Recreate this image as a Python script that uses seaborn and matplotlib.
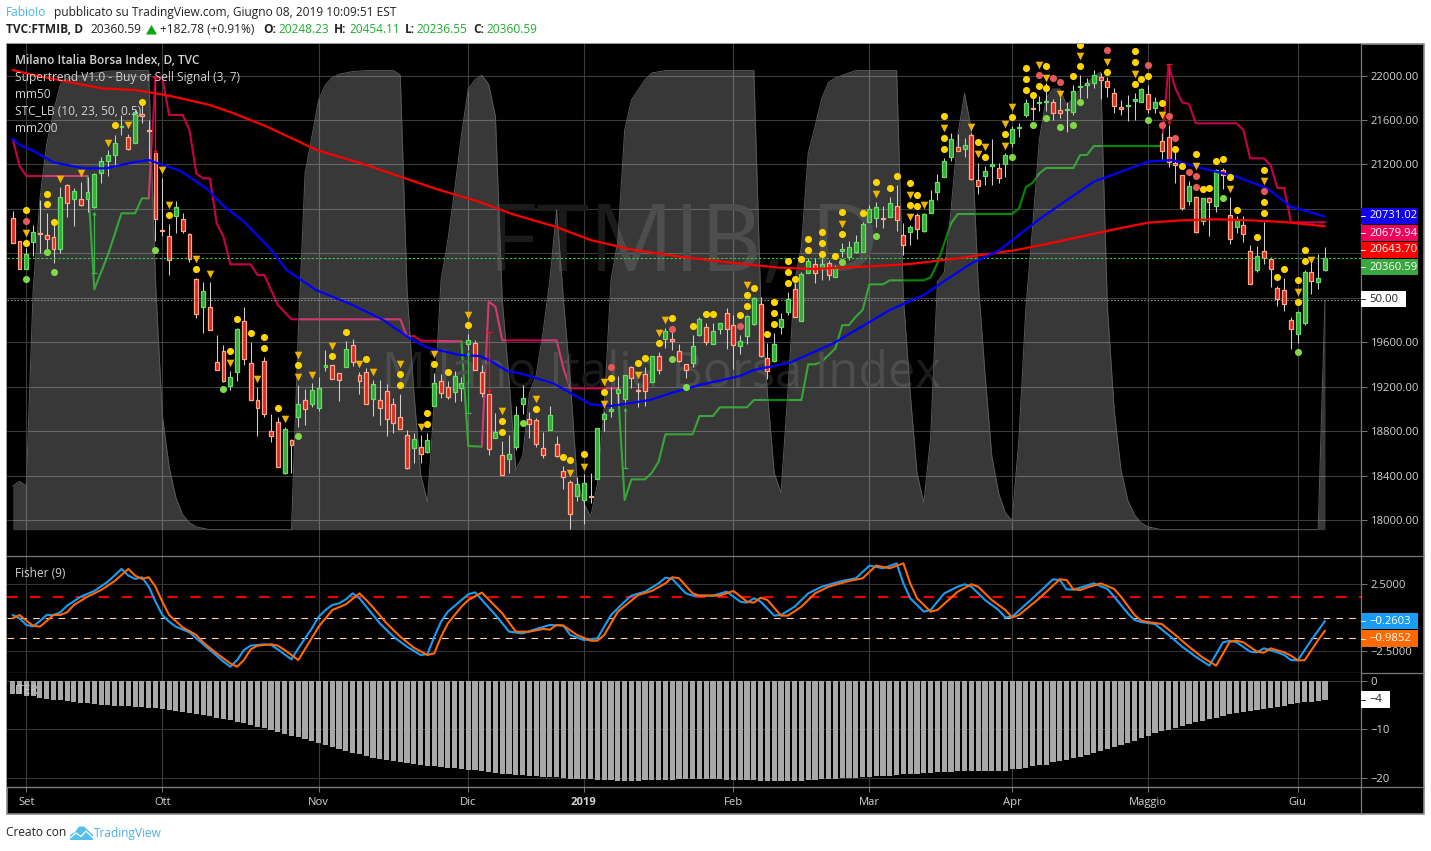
import matplotlib
matplotlib.use("Agg")
import matplotlib.pyplot as plt
import numpy as np
import pandas as pd
import seaborn as sns
from matplotlib.patches import Rectangle, Polygon
from matplotlib.lines import Line2D

W, H = 1431, 851

opens = [20715,20508,20262,20505,20586,20562,20550,20442,21012,20892,
 20892,20886,20820,21120,21234,21288,21534,21444,21390,21651,
 21510,21300,20610,20559,20736,20712,20571,20166,19920,19914,
 19419,19518,19209,19335,19788,19410,19077,19428,18798,18879,
 18426,18717,18930,19077,19047,19011,19374,19392,19320,19380,
 19572,19302,19329,19092,19077,19158,19041,18924,18762,18651,
 18654,18615,19029,19248,19194,19155,19185,19587,19590,19329,
 19131,18741,18582,18552,18660,19047,18906,18897,18645,18813,
 18681,18438,18339,18219,18183,18219,18372,18912,18978,19146,
 19092,19374,19170,19311,19245,19473,19632,19632,19518,19401,
 19416,19668,19734,19587,19722,19860,19752,19563,19653,19761,
 19941,19461,19434,19740,19875,20076,19794,20226,20301,20265,
 20310,20190,20424,20370,20409,20415,20685,20715,20721,20730,
 20823,20562,20589,20742,20598,20766,20949,21090,21270,21354,
 21342,21462,21057,21099,21189,21165,21207,21396,21528,21648,
 21708,21753,21762,21762,21687,21687,21675,21894,21918,21936,
 21990,21948,21840,21714,21723,21768,21765,21831,21711,21408,
 21444,21210,21102,20874,20904,20694,20895,20829,21147,20742,
 20634,20652,20418,20253,20418,20346,20085,20067,19797,19677,
 19776,20229,20145,20248.23]
closes = [20490,20262,20394,20595,20574,20526,20442,20910,20850,20958,
 20838,20949,21111,21228,21282,21390,21546,21336,21669,21639,
 21498,20706,20598,20337,20820,20604,20352,19851,20058,19713,
 19353,19254,19284,19716,19452,19083,19011,18957,18759,18480,
 18816,18678,19041,18996,19167,19185,19392,19272,19263,19536,
 19425,19254,19047,19221,19011,18906,18876,18822,18471,18726,
 18597,18717,19230,19146,19110,19293,19230,19617,19353,19146,
 18642,18789,18408,18591,18942,19095,18867,18687,18582,18942,
 18573,18390,18057,18321,18330,18207,18831,18951,18996,19176,
 19302,19281,19158,19164,19473,19353,19704,19608,19434,19347,
 19563,19806,19605,19698,19770,19722,19572,19608,19833,19995,
 19473,19344,19581,19806,19986,19830,20211,20328,20226,20301,
 20208,20268,20436,20454,20502,20664,20796,20814,20709,20850,
 20697,20478,20634,20622,20751,20877,21039,21228,21426,21324,
 21372,21072,21009,21138,21201,21075,21282,21516,21540,21750,
 21696,21765,21774,21666,21666,21699,21858,21906,21930,22002,
 21957,21894,21723,21696,21735,21789,21879,21702,21759,21318,
 21219,21198,20811,21003,20589,20895,20859,21147,21102,20532,
 20700,20571,20127,20373,20361,20256,19992,19947,19722,19875,
 20229,20154,20175,20360.59]
highs = [20784,20508,20445,20655,20880,20760,20700,21000,21024,20985,
 21045,21090,21120,21270,21330,21468,21645,21474,21690,21780,
 21600,21375,21075,20664,20871,20760,20580,20175,20145,20139,
 19665,19575,19341,19725,19914,19602,19200,19464,18951,18927,
 18840,18726,19215,19176,19236,19284,19530,19392,19320,19611,
 19626,19329,19365,19260,19260,19221,19101,19134,18810,18780,
 18765,18780,19320,19314,19248,19341,19290,19674,19620,19395,
 19260,18960,18711,18765,19026,19215,18975,18915,18795,19026,
 18756,18486,18360,18390,18411,18423,18831,18975,19200,19296,
 19305,19386,19236,19374,19473,19512,19725,19740,19584,19401,
 19665,19824,19770,19776,19770,19905,19845,19665,19848,20010,
 20004,19590,19680,19860,20049,20130,20230,20355,20355,20355,
 20340,20295,20490,20511,20565,20682,20835,20859,20826,20904,
 21012,20670,20652,20760,20760,20970,21111,21255,21480,21474,
 21435,21486,21216,21186,21429,21216,21300,21546,21570,21786,
 21795,21819,21930,21786,21810,21765,21915,22005,21975,22050,
 22020,21990,21885,21780,21825,21840,21885,21915,21810,21480,
 21555,21330,21108,21051,20916,20901,20910,21156,21168,20910,
 20736,20736,20475,20466,20679,20370,20106,20175,19830,19880,
 20250,20325,20394,20454.11]
lows = [20490,20262,20262,20376,20400,20430,20310,20406,20730,20646,
 20826,20772,20805,21030,21096,21180,21465,21330,21390,21570,
 21225,20514,20559,20205,20586,20580,20325,19821,19686,19710,
 19350,19245,19170,19251,19398,19080,18756,18930,18702,18474,
 18414,18426,18840,18855,19020,18981,19341,19269,19074,19374,
 19386,19134,19044,18936,18855,18756,18786,18819,18462,18516,
 18516,18606,19026,19098,19089,19065,19074,19530,19350,19110,
 18585,18735,18405,18426,18630,18954,18741,18660,18561,18810,
 18570,18279,17922,18174,17964,18156,18369,18801,18930,19035,
 19035,19191,19020,19029,19245,19314,19548,19530,19425,19281,
 19380,19656,19572,19581,19674,19542,19362,19494,19581,19752,
 19470,19272,19425,19674,19845,19824,19790,20220,20130,20160,
 20160,20184,20370,20340,20400,20409,20685,20640,20625,20724,
 20604,20385,20478,20529,20595,20760,20880,21090,21234,21324,
 21270,21060,20931,21015,21015,21036,21090,21354,21450,21630,
 21600,21684,21684,21600,21615,21489,21645,21795,21795,21891,
 21786,21810,21666,21645,21594,21600,21759,21666,21660,21249,
 21180,21036,20790,20835,20586,20655,20559,20775,20982,20484,
 20580,20505,20124,20235,20304,20100,19929,19884,19539,19590,
 19755,20034,20079,20236.55]

mm200_idx = [0,3,13,18,23,29,32.5,37.4,40,44.7,52,57,62,68.7,73.6,79.8,85,90.8,98.1,106.5,
 112.8,117.7,125,132,139,147.6,152.5,160,162,167,172,177,182,187,193]
mm200_val = [22050,22005,21885,21870,21819,21735,21660,21540,21465,21330,21195,21090,20985,20862,20751,20640,20520,20436,20370,20310,
 20271,20259,20280,20304,20355,20430,20490,20589,20616,20676,20697,20706,20697,20682,20643.7]
mm50_idx = [0,1,3,6,10.4,13.8,17.7,20,24.6,28.5,31,34,37.8,40.3,44.6,50,54.5,58.4,61,65.8,68.7,70.2,72.6,75,79.5,85,88,93.7,96.7,101,107,109,114.3,120.7,
 129,134,137.6,141,145,151.5,159,163,167,170.5,175,180,184.5,188,193]
mm50_val = [21429,21375,21324,21219,21165,21165,21219,21240,21144,20985,20826,20685,20445,20250,20070,19935,19800,19635,19551,19485,19476,19434,19344,19314,19230,19041,19026,19080,19140,19215,19296,19350,19416,19590,
 19890,20025,20175,20310,20424,20730,21045,21135,21225,21240,21165,21090,20985,20820,20731.02]

# supertrend legs, red above the price and green below it
st_red1_idx = [0,1,2,11]
st_red1_val = [21429,21186,21096,21096]
st_green1_idx = [11,12,14,16,18,19,20]
st_green1_val = [21096,20076,20385,20760,20760,20895,20895]
st_red2_idx = [20,21,22,23,25,26,27,28,29,30,31,32,35,36,37,39,40,41,57,58,59,60,66]
st_red2_val = [20895,21984,21984,21645,21645,21510,21120,21075,21075,20670,20550,20301,20301,20205,20205,19935,19869,19806,19806,19650,19656,19614,19608]
st_green2_idx = [66,67,69]
st_green2_val = [19608,18666,18660]
st_red3_idx = [69,70,71,72,80,81,82,89]
st_red3_val = [18660,19965,19920,19617,19617,19365,19185,19185]
st_green3_idx = [89,90,91,93,94,95,96,100,101,103,104,108,109,116,117,118,119,121,122,123,124,125,126,128,129,134,135,136,137,138,139,147,148,149,150,151,152,156,157,158,159,169]
st_green3_val = [19185,18180,18366,18366,18426,18525,18771,18771,18936,18936,19014,19014,19080,19080,19401,19401,19425,19545,19752,19755,19830,19890,20121,20121,20157,20157,20184,20310,20490,20670,20754,20754,20805,20994,21036,21120,21168,21168,21285,21285,21366,21366]
st_red4_idx = [169,170,171,172,173,174,180,181,182,184,185,186,187,188,193]
st_red4_val = [21366,22095,21885,21759,21744,21570,21570,21510,21255,21255,21195,20988,20988,20679,20679.94]

arrow_idx = [12,21,67,70,90,170]
arrow_start = [20226,21984,18960,19689,18465,22101]
arrow_end = [20760,21315,19500,19155,18996,21570]

stc_idx = [0,1,2,3,4,5,6,7,8,10,14,20,21,22,23,24,25,26,27,29,41,42,43,44,45,46,47,48,50,52,56,57,58,59,60,61,62,63,64,65,66,67,68,69,70,71,72,73,74,75,76,77,78,79,80,81,82,83,84,85,86,87,88,89,90,91,92,93,94,96,109,110,111,112,113,114,115,116,117,118,119,120,121,123,124,130,131,132,133,134,135,136,137,138,139,140,141,142,143,144,145,146,147,148,149,150,151,152,153,154,155,156,157,158,159,160,161,162,163,164,165,166,167,169,192,193]
stc_val = [9.5,10.5,9.5,52,72,84,91,97,98.4,99,99.9,100,54,25,13.7,7,3.2,1.5,0.6,0,0,43,77.7,85.6,93.6,96.9,98.5,99.2,99.8,100,100,99,52,30,12,6,27.6,54.4,63,74,86,96,98,99,97,90,50,32.6,13,16,29.7,33.7,43,54.4,69.7,50,32.6,10.8,5.8,2.8,10,26.8,54.4,63,87,93.6,95.8,98,99.5,100,100,50.8,29.7,12.3,8,30,54,61.6,82,87.8,94,97.5,98.4,99.5,100,100,50.5,29.7,12.3,5.8,20,54,56,69.6,86,95,87,53.7,34,16,8,3.6,2,20,48,66,85,94,96,96,92.5,94,96,97.3,98.6,99.7,48.5,26,13,6.4,3.2,1.4,0.6,0,0,50]

yellow_idx = [2,2,5,5,6,15,19,23,27,33,35,37,37,32,39,42,49,47,52,57,57,61,61,62,64,67,72,72,77,81,82,84,87,88,92,93,95,97,100,102,103,107,108,108,109,111,112,112,112,114,114,114,115,116,117,117,119,119,119,121,122,122,125,127,129,130,132,132,133,133,137,137,137,142,143,146,147,149,149,149,150,151,152,152,156,157,157,161,165,165,165,166,167,169,171,172,174,175,176,177,178,179,180,183,184,184,184,186,187,189,189,190,190]
yellow_val = [20787,20490,20937,20841,20679,21552,21759,20742,20256,19806,19680,19644,19545,19518,19005,19392,19689,19473,19446,19311,19212,18960,18861,19401,19329,19752,18888,18789,18996,18564,18537,18591,19149,19275,19410,19455,19590,19815,19743,19851,19851,19842,20022,19923,20085,19671,19959,19860,19761,20130,20229,20328,20166,20346,20526,20427,20589,20490,20391,20373,20769,20571,20760,21039,20985,21093,21030,20832,20922,20823,21633,21435,21336,21399,21264,21471,21624,22065,21966,21867,21822,21903,22083,21885,21993,22272,22083,22029,22218,22119,21921,21966,21993,21750,21336,21183,21291,20976,20985,21228,21246,21084,20787,20544,21147,20859,20760,20184,20256,20157,19959,20427,20328]
tri_idx = [2,7,10,14,17,22,23,27,29,32,36,40,42,42,44,47,51,53,57,60,62,67,72,77,82,84,87,87,92,95,96,108,122,127,132,132,134,137,141,142,143,146,146,147,151,152,154,157,161,165,169,174,179,184,189,191]
tri_val = [20580,21066,21120,21390,21552,21147,20835,20349,20214,19410,19266,18906,19482,19284,19302,19563,19401,19329,19401,18834,19491,19842,18978,19086,18426,18480,19239,19041,19302,19680,19797,20112,20664,20931,20922,20724,20832,21525,21534,21291,21354,21561,21363,21714,22092,21975,21831,22173,22119,22011,21642,21183,20976,21048,20049,20337]
reddot_idx = [2,88,97,107,151,153,154,161,167,169,170,171,173,174,174,184]
reddot_val = [20688,19374,19716,19743,22002,21975,21939,22227,22092,21552,21633,21435,21129,21093,20994,20958]
greendot_idx = [2,5,6,21,31,42,75,97,99,122,127,147,150,152,154,156,157,167,178,189]
greendot_val = [20166,20409,20229,20427,19176,18753,18870,19446,19194,20319,20553,21264,21552,21615,21534,21552,21759,21597,20895,19509]

fisher_idx = [0,1,2,3,4,5,6,7,8,10,12,14,16,17,18,19,20,21,22,23,24,26,27,29,31,32,33,34,35,37,38,39,41,42,43,44,45,46,47,48,49,50,51,52,54,56,58,60,61,62,63,64,66,67,68,71,73,75,77,79,81,82,84,86,88,90,91,93,95,96,97,99,100,103,105,107,108,109,110,112,113,115,117,119,122,124,126,128,130,131,132,134,135,137,139,140,141,143,145,146,147,150,153,154,155,156,157,159,161,162,164,165,166,168,170,172,174,176,178,179,180,182,183,184,186,187,188,189,191,193]
fisher_val = [0.19,-0.06,-0.56,-0.66,-0.26,0.19,0.19,0.39,0.89,1.56,1.99,2.69,3.64,3.14,2.89,3.02,2.31,1.19,0.19,-0.31,-0.69,-1.11,-1.56,-2.44,-3.31,-3.69,-3.19,-2.44,-2.11,-2.01,-2.06,-2.39,-3.14,-2.31,-1.56,-0.81,0.06,0.56,0.94,1.06,1.36,1.81,1.44,0.81,-0.44,-1.44,-2.19,-2.81,-2.74,-1.44,-0.31,0.44,1.31,1.74,1.89,0.19,-1.06,-1.19,-0.86,-0.56,-0.61,-1.31,-1.69,-1.56,0.19,1.19,1.64,1.94,2.56,2.99,2.89,1.81,1.64,1.64,1.94,1.19,1.11,1.44,1.19,0.14,0.19,0.81,1.81,2.31,2.74,2.94,3.89,3.69,4.06,2.56,1.44,0.44,0.56,1.81,2.31,2.49,2.31,1.31,0.56,0.0,0.06,1.44,2.86,2.81,2.11,2.09,2.24,2.56,2.14,1.56,0.31,-0.19,-0.34,-0.49,-1.31,-2.19,-2.94,-3.61,-1.86,-1.74,-1.86,-2.56,-2.61,-2.31,-2.61,-2.81,-3.19,-3.21,-1.69,-0.2603]
trigger_idx = [0,1,2,3,4,5,6,7,8,9,11,13,15,17,18,19,20,21,22,23,25,27,28,30,32,33,34,35,36,38,39,40,42,43,45,47,49,51,52,53,55,57,59,61,62,63,64,66,67,69,72,74,76,78,79,80,81,83,85,86,87,89,92,94,96,97,98,100,101,104,106,108,109,110,111,113,114,116,118,120,123,125,127,129,131,132,133,135,136,139,141,142,144,146,147,148,151,154,155,156,157,158,160,162,163,165,166,167,169,171,173,175,177,179,180,181,183,184,185,187,188,189,190,192,193]
trigger_val = [-0.06,0.19,-0.24,-0.61,-0.69,-0.26,0.19,0.19,0.39,0.94,1.56,2.06,2.74,3.64,3.14,2.89,3.02,2.31,1.19,0.19,-0.74,-1.31,-1.86,-2.69,-3.44,-3.69,-3.19,-2.39,-2.11,-2.01,-2.11,-2.44,-3.19,-2.36,-0.69,0.56,0.99,1.81,1.31,0.76,-0.44,-1.44,-2.26,-2.81,-2.69,-1.44,-0.44,0.81,1.31,1.87,0.31,-1.06,-1.06,-0.86,-0.91,-0.56,-0.61,-1.31,-1.74,-1.74,-1.31,0.44,1.69,1.99,2.56,3.02,2.94,1.81,1.64,1.64,1.99,1.19,1.11,1.49,1.31,0.14,0.14,0.81,1.81,2.31,2.74,2.94,3.89,3.69,4.06,2.56,1.44,0.44,0.56,1.94,2.49,2.31,1.31,0.56,0.0,0.19,1.44,2.86,2.81,2.11,2.06,2.24,2.56,2.14,1.56,0.19,-0.24,-0.34,-0.49,-1.31,-2.19,-2.99,-3.61,-1.81,-1.74,-1.86,-2.56,-2.64,-2.31,-2.61,-2.86,-3.21,-3.21,-1.69,-0.9852]

iter_depth = [2.76,2.76,3.03,3.17,3.45,3.72,3.86,3.93,4.14,4.28,
 4.48,4.55,4.76,4.90,5.03,5.10,5.10,5.17,5.31,5.38,
 5.52,5.59,5.79,5.93,6.14,6.34,6.55,6.76,6.97,7.31,
 7.59,7.86,8.14,8.41,8.69,9.10,9.45,9.72,10.14,10.48,
 10.97,11.31,11.59,12.00,12.41,12.83,13.24,13.66,14.07,14.41,
 14.90,15.17,15.52,15.86,16.21,16.41,16.62,16.83,17.03,17.24,
 17.38,17.52,17.66,17.79,17.93,18.07,18.21,18.34,18.41,18.55,
 18.76,18.97,19.17,19.24,19.38,19.45,19.59,19.66,19.79,19.86,
 19.93,20.00,20.21,20.21,20.28,20.34,20.48,20.48,20.48,20.62,
 20.62,20.62,20.62,20.48,20.48,20.41,20.41,20.41,20.34,20.28,
 20.28,20.28,20.21,20.21,20.21,20.41,20.41,20.41,20.41,20.48,
 20.62,20.62,20.62,20.62,20.62,20.62,20.62,20.48,20.41,20.34,
 20.28,20.28,20.14,20.07,20.00,19.93,19.93,19.72,19.72,19.66,
 19.45,19.31,19.24,19.17,19.03,18.97,18.83,18.83,18.76,18.62,
 18.62,18.62,18.62,18.62,18.62,18.62,18.62,18.21,18.14,18.00,
 17.66,17.38,17.31,16.83,16.62,16.34,15.93,15.66,15.31,14.90,
 14.48,14.07,13.66,13.24,12.83,12.41,11.86,11.38,10.76,10.34,
 10.07,9.79,9.31,8.90,8.55,8.28,7.86,7.59,7.17,6.76,
 6.55,6.34,6.14,6.00,5.72,5.52,5.31,5.10,4.76,4.48,
 4.34,4.28,4.14,3.93]

month_idx = [2,22,45,67,84,106,126,147,167,189]
month_labels = ["Set","Ott","Nov","Dic","2019","Feb","Mar","Apr","Maggio","Giu"]
price_ticks = [18000,18400,18800,19200,19600,20000,20400,20800,21200,21600,22000]
hidden_ticks = [20000,20400,20800]
last_price = 20360.59
stc_mid = 50
fisher_red = 1.5
fisher_levels = [0,-1.5]
fisher_ticks = [2.5,-2.5]
iter_ticks = [0,-10,-20]

tags_main = [("20731.02",216,1418,"#1100f0"),("20679.94",233,1418,"#f0005a"),("20643.70",250,1418,"#ff0000"),("20360.59",267,1418,"#38a83f")]
tags_fisher = [("\u22120.2603",621,1418,"#1a9cf5"),("\u22120.9852",638.5,1418,"#ff6a00")]

sns.set_theme(style="dark")
plt.rcParams["font.family"] = ["Open Sans", "DejaVu Sans"]

fig = plt.figure(figsize=(W / 100, H / 100), dpi=100, facecolor="white")
bg_col = "black"
grid_col = "#3c3c3c"
text_col = "#d2d2d2"
axis_col = "#7a7a7a"
px_size = 0.72


def rect_px(left, top, right, bottom):
    return [left / W, 1 - bottom / H, (right - left) / W, (bottom - top) / H]


def fx(px):
    return px / W


def fy(py):
    return 1 - py / H


def put(px, py, s, **kw):
    kw.setdefault("va", "center")
    kw.setdefault("ha", "left")
    kw.setdefault("fontsize", 8.6)
    return fig.text(fx(px), fy(py), s, **kw)


fig.add_artist(Rectangle((fx(7), fy(814)), (1424 - 7) / W, (814 - 44) / H, transform=fig.transFigure,
                         facecolor=bg_col, edgecolor="#8a8a8a", linewidth=1.2, zorder=-5))

xlim = (-0.84, 198.3)
ax = fig.add_axes(rect_px(7, 44, 1361, 556), facecolor=bg_col)
ax_fi = fig.add_axes(rect_px(7, 556, 1361, 673), facecolor=bg_col, sharex=ax)
ax_it = fig.add_axes(rect_px(7, 673, 1361, 787), facecolor=bg_col, sharex=ax)

# layers: supertrend sits under the STC veil, candles go over it
ax_stc = ax.twinx()
ax_top = ax.twinx()
ax_stc.set_zorder(2)
ax_top.set_zorder(3)
ax.set_zorder(1)
for a in (ax_stc, ax_top):
    a.patch.set_visible(False)
    a.grid(False)
    a.tick_params(right=False, labelright=False, left=False, labelleft=False, bottom=False, labelbottom=False)
    for s in a.spines.values():
        s.set_visible(False)

price_lim = (17676, 22284)
ax.set_ylim(price_lim)
ax_top.set_ylim(price_lim)
ax_stc.set_ylim(-5.73, 105.8)

# watermark
ax.text(0.5, 0.605, "FTMIB, D", transform=ax.transAxes, ha="center", va="center", fontsize=68, color="#1b1b1b")
ax.text(0.4835, 0.355, "Milano Italia Borsa Index", transform=ax.transAxes, ha="center", va="center", fontsize=35, color="#1b1b1b")

# supertrend
for xs, ys, col in [(st_red1_idx, st_red1_val, "#c8004b"), (st_green1_idx, st_green1_val, "#008c00"),
                    (st_red2_idx, st_red2_val, "#c8004b"), (st_green2_idx, st_green2_val, "#008c00"),
                    (st_red3_idx, st_red3_val, "#c8004b"), (st_green3_idx, st_green3_val, "#008c00"),
                    (st_red4_idx, st_red4_val, "#c8004b")]:
    sns.lineplot(x=xs, y=ys, ax=ax, color=col, linewidth=1.5, estimator=None, sort=False, legend=False)

# STC area
ax_stc.fill_between(stc_idx, stc_val, 0, facecolor="white", alpha=0.225, linewidth=0)
sns.lineplot(x=stc_idx, y=stc_val, ax=ax_stc, color="#5a5a5a", linewidth=0.7, estimator=None, sort=False, legend=False)
ax_stc.axhline(stc_mid, color="#8a8a8a", linewidth=0.8, linestyle=(0, (1.5, 1.5)))

# candles
candles = pd.DataFrame({"i": np.arange(len(opens)), "o": opens, "h": highs, "l": lows, "c": closes})
candles["up"] = candles["c"] >= candles["o"]
candles["top"] = candles[["o", "c"]].max(axis=1)
candles["bot"] = candles[["o", "c"]].min(axis=1)
ax_top.vlines(candles["i"], candles["l"], candles["h"], color="#cfcfcf", linewidth=0.75, zorder=2)
up = candles[candles["up"]]
dn = candles[~candles["up"]]
ax_top.bar(up["i"], up["top"] - up["bot"], bottom=up["bot"], width=0.58, facecolor="#39a83a", edgecolor="#66dd66", linewidth=0.9, zorder=3)
ax_top.bar(dn["i"], dn["top"] - dn["bot"], bottom=dn["bot"], width=0.58, facecolor="#dc2a1e", edgecolor="#ffa98a", linewidth=0.9, zorder=3)

# moving averages
sns.lineplot(x=mm200_idx, y=mm200_val, ax=ax_top, color="#ff0000", linewidth=1.6, estimator=None, sort=False, legend=False, zorder=5)
sns.lineplot(x=mm50_idx, y=mm50_val, ax=ax_top, color="#0000ff", linewidth=1.6, estimator=None, sort=False, legend=False, zorder=5)

# flip arrows
for i, a0, a1 in zip(arrow_idx, arrow_start, arrow_end):
    col = "#39b54a" if a1 > a0 else "#f01010"
    ax_top.vlines(i, min(a0, a1), max(a0, a1), color=col, linewidth=0.9, zorder=6)
    ax_top.plot([i], [a0], marker="_", markersize=5, color=col, markeredgewidth=0.9, zorder=6)
    ax_top.plot([i], [a1], marker="^" if a1 > a0 else "v", markersize=3, color=col, markeredgewidth=0, zorder=6)

sns.scatterplot(x=yellow_idx, y=yellow_val, ax=ax_top, color="#ffd500", s=26, linewidth=0, zorder=7, legend=False)
sns.scatterplot(x=tri_idx, y=tri_val, ax=ax_top, color="#f0b400", marker="v", s=30, linewidth=0, zorder=7, legend=False)
sns.scatterplot(x=reddot_idx, y=reddot_val, ax=ax_top, color="#e85858", s=26, linewidth=0, zorder=7, legend=False)
sns.scatterplot(x=greendot_idx, y=greendot_val, ax=ax_top, color="#80d848", s=26, linewidth=0, zorder=7, legend=False)
ax_top.axhline(last_price, color="#3cc44a", linewidth=0.8, linestyle=(0, (2.2, 1.6)), zorder=4)

# fisher pane
ax_fi.set_ylim(-4.16, 4.61)
ax_fi.axhline(fisher_red, color="#f00000", linewidth=1.5, linestyle=(0, (5, 6)), zorder=2)
for lv in fisher_levels:
    ax_fi.axhline(lv, color="#ffd2ba", linewidth=0.8, linestyle=(0, (6, 5.5)), zorder=2)
sns.lineplot(x=fisher_idx, y=fisher_val, ax=ax_fi, color="#1a9cf5", linewidth=1.5, estimator=None, sort=False, legend=False, zorder=3)
sns.lineplot(x=trigger_idx, y=trigger_val, ax=ax_fi, color="#ff6a00", linewidth=1.5, estimator=None, sort=False, legend=False, zorder=4)

# iter pane
ax_it.set_ylim(-21.9, 1.66)
sns.barplot(x=np.arange(len(iter_depth)), y=-np.array(iter_depth), ax=ax_it, color="#a8a8a8", saturation=1,
            native_scale=True, width=0.76, linewidth=0, zorder=3)

# axes dressing
ax.set_xlim(xlim)
for a in (ax, ax_fi, ax_it):
    a.set_xlabel("")
    a.set_ylabel("")
    a.grid(False)
    a.set_axisbelow(True)
    for m in month_idx:
        a.axvline(m, color=grid_col, linewidth=0.8, zorder=0)
    for k, s in a.spines.items():
        s.set_visible(k in ("right", "bottom"))
        s.set_color(axis_col)
        s.set_linewidth(0.9)
    a.yaxis.tick_right()
    a.tick_params(axis="y", right=True, left=False, labelright=True, labelleft=False, length=4, width=0.7, color=axis_col,
                  labelcolor=text_col, labelsize=8.1, pad=3)
    a.tick_params(axis="x", bottom=False, labelbottom=False)

ax.set_yticks(price_ticks)
ax.set_yticklabels(["" if t in hidden_ticks else f"{t:.2f}" for t in price_ticks])
for t in price_ticks:
    ax.axhline(t, color=grid_col, linewidth=0.8, zorder=0)
ax_fi.set_yticks(fisher_ticks)
ax_fi.set_yticklabels(["2.5000", "\u22122.5000"])
for t in fisher_ticks:
    ax_fi.axhline(t, color="#333333", linewidth=0.8, zorder=0)
ax_it.set_yticks(iter_ticks)
ax_it.set_yticklabels(["0", "\u221210", "\u221220"])
for t in iter_ticks:
    ax_it.axhline(t, color="#333333", linewidth=0.8, zorder=0)
ax_it.set_xticks(month_idx)
ax_it.set_xticklabels(month_labels)
ax_it.tick_params(axis="x", bottom=True, labelbottom=True, length=3.5, width=0.7, color=axis_col, labelcolor=text_col, labelsize=8.1, pad=4)
ax_it.get_xticklabels()[4].set_fontweight("bold")

# axis band separator right of the price scale, bottom strip
fig.add_artist(Line2D([fx(1361), fx(1361)], [fy(787), fy(814)], color=axis_col, linewidth=0.9, transform=fig.transFigure, zorder=5))
fig.add_artist(Line2D([fx(7), fx(1424)], [fy(787), fy(787)], color=axis_col, linewidth=0.9, transform=fig.transFigure, zorder=5))
fig.add_artist(Line2D([fx(1361), fx(1424)], [fy(556), fy(556)], color=axis_col, linewidth=0.9, transform=fig.transFigure, zorder=5))
fig.add_artist(Line2D([fx(1361), fx(1424)], [fy(673), fy(673)], color=axis_col, linewidth=0.9, transform=fig.transFigure, zorder=5))


def tag(text, py, right, facecolor, color="white", half=8.4):
    fig.add_artist(Rectangle((fx(1361), fy(py + half)), (right - 1361) / W, 2 * half / H, transform=fig.transFigure,
                             facecolor=facecolor, edgecolor="none", zorder=8))
    fig.add_artist(Line2D([fx(1361), fx(1365)], [fy(py), fy(py)], color=color, linewidth=0.7, transform=fig.transFigure, zorder=9))
    put(1369, py, text, color=color, fontsize=8.1, zorder=10)


for txt, py, right, col in tags_main + tags_fisher:
    tag(txt, py, right, col)
tag("50.00", 299, 1406, "white", color="#222222")
tag("\u22124", 699.5, 1390, "white", color="#222222")

# pane captions
put(15, 60.5, "Milano Italia Borsa Index, D, TVC", color=text_col, fontweight="semibold", zorder=10)
put(15, 77.5, "Supertrend V1.0 - Buy or Sell Signal (3, 7)", color=text_col, zorder=10)
put(15, 94.5, "mm50", color=text_col, zorder=10)
put(15, 111.5, "STC_LB (10, 23, 50, 0.5)", color=text_col, zorder=10)
put(15, 128.5, "mm200", color=text_col, zorder=10)
put(15, 573.5, "Fisher (9)", color=text_col, zorder=10)
put(15, 690.5, "ITER", color="#c8c8c8", zorder=10)

# header
blue_link = "#4ab3e6"
dark = "#222222"
green_val = "#1fae2d"
put(6, 12.5, "FabioIo", color=blue_link)
put(53.5, 12.5, "pubblicato su TradingView.com, Giugno 08, 2019 10:09:51 EST", color=dark)
put(6, 29.5, "TVC:FTMIB, D", color=dark, fontweight="bold")
put(90, 29.5, "20360.59", color=dark)
fig.add_artist(Polygon([(fx(146), fy(34.5)), (fx(157), fy(34.5)), (fx(151.5), fy(25))], closed=True, transform=fig.transFigure, facecolor="#0aa513", edgecolor="none"))
put(160, 29.5, "+182.78 (+0.91%)", color=dark)
put(263, 29.5, "O:", color=dark, fontweight="bold")
put(278, 29.5, "20248.23", color=green_val)
put(334, 29.5, "H:", color=dark, fontweight="bold")
put(349, 29.5, "20454.11", color=green_val)
put(405, 29.5, "L:", color=dark, fontweight="bold")
put(416, 29.5, "20236.55", color=green_val)
put(473, 29.5, "C:", color=dark, fontweight="bold")
put(486, 29.5, "20360.59", color=green_val)

# footer with logo
put(6, 833, "Creato con", color=dark)
logo = [(70, 840), (70, 835), (75, 832), (79, 826.5), (84, 826.5), (89, 831), (93, 835), (93, 840)]
fig.add_artist(Polygon([(fx(a), fy(b)) for a, b in logo], closed=True, transform=fig.transFigure, facecolor="#56bfea", edgecolor="none"))
fig.add_artist(Line2D([fx(70), fx(76), fx(81), fx(86), fx(93)], [fy(838), fy(833), fy(836.5), fy(831), fy(838)], color="white", linewidth=0.9, transform=fig.transFigure))
put(94, 833.5, "TradingView", color=blue_link)

fig.savefig("out.png", dpi=100, facecolor="white")
